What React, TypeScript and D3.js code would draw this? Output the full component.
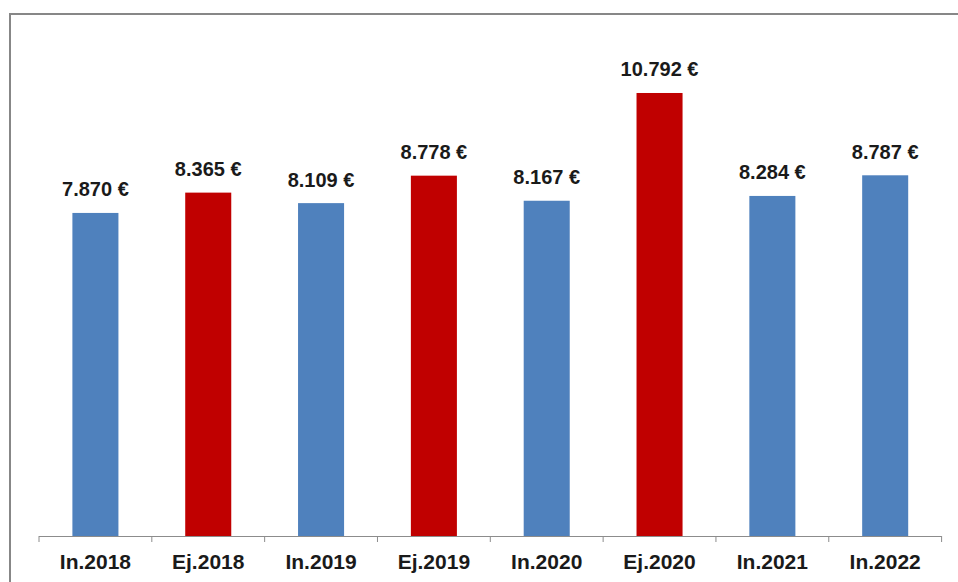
import React from "react";
import * as d3 from "d3";

const categories = ["In.2018", "Ej.2018", "In.2019", "Ej.2019", "In.2020", "Ej.2020", "In.2021", "In.2022"];
const values = [7870, 8365, 8109, 8778, 8167, 10792, 8284, 8787];
const labels = ["7.870 €", "8.365 €", "8.109 €", "8.778 €", "8.167 €", "10.792 €", "8.284 €", "8.787 €"];
const seriesKind = ["In", "Ej", "In", "Ej", "In", "Ej", "In", "In"];

const W = 958;
const H = 582;
const plotLeft = 39;
const plotRight = 941.6;
const baseY = 536;
const topY = 43.4;

export default function App() {
  const x = d3
    .scaleBand<string>()
    .domain(categories)
    .range([plotLeft, plotRight])
    .paddingInner(0.592)
    .paddingOuter(0.296);
  const y = d3.scaleLinear().domain([0, 12000]).range([baseY, topY]);
  const step = x.step();
  const tickXs = d3.range(categories.length + 1).map((i) => plotLeft + i * step);
  const color = (k: string) => (k === "Ej" ? "#C00000" : "#4F81BD");
  const font = "'Liberation Sans', Arial, sans-serif";

  return (
    <svg
      width={W}
      height={H}
      style={{ position: "absolute", left: 0, top: 0, display: "block" }}
    >
      <rect x={0} y={0} width={W} height={H} fill="#fff" />
      <rect x={10} y={14} width={W + 20} height={H + 20} fill="none" stroke="#878787" strokeWidth={2} />
      {categories.map((c, i) => (
        <rect
          key={c}
          x={x(c)}
          y={y(values[i])}
          width={x.bandwidth()}
          height={baseY - y(values[i])}
          fill={color(seriesKind[i])}
        />
      ))}
      <line x1={plotLeft} x2={plotRight} y1={baseY + 0.5} y2={baseY + 0.5} stroke="#8c8c8c" strokeWidth={1} />
      {tickXs.map((tx, i) => (
        <line key={i} x1={tx} x2={tx} y1={baseY} y2={baseY + 6} stroke="#8c8c8c" strokeWidth={1} />
      ))}
      {categories.map((c, i) => (
        <text
          key={"v" + c}
          x={(x(c) as number) + x.bandwidth() / 2}
          y={y(values[i]) - 16.5}
          textAnchor="middle"
          fontFamily={font}
          fontWeight="bold"
          fontSize={20}
          fill="#1a1a1a"
        >
          {labels[i]}
        </text>
      ))}
      {categories.map((c) => (
        <text
          key={"c" + c}
          x={(x(c) as number) + x.bandwidth() / 2}
          y={569}
          textAnchor="middle"
          fontFamily={font}
          fontWeight="bold"
          fontSize={21}
          fill="#1a1a1a"
        >
          {c}
        </text>
      ))}
    </svg>
  );
}
